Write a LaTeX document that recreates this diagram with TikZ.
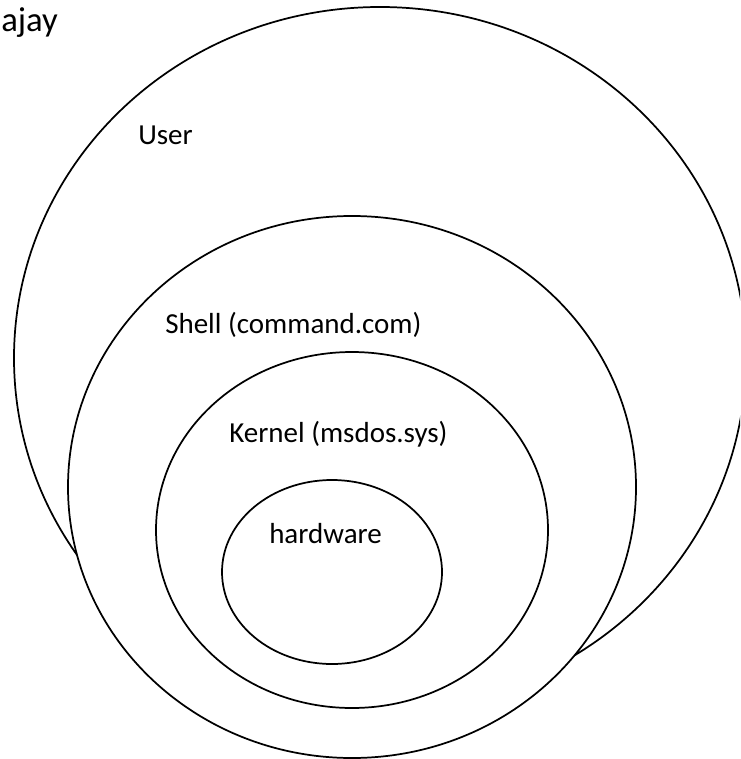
\documentclass[tikz,border=0pt]{standalone}
\usepackage{fontspec}
\setmainfont{Carlito}
\begin{document}
\begin{tikzpicture}[x=0.75pt,y=-0.75pt,
  ring/.style={draw=black,line width=1.3pt,fill=white},
  lbl/.style={inner sep=0pt,font=\fontsize{21.75}{26}\selectfont,anchor=base west},
  title/.style={inner sep=0pt,font=\fontsize{26}{31}\selectfont,anchor=base west}]
\useasboundingbox (0,0) rectangle (740,759);
\clip (0,0) rectangle (740,759);
\draw[ring] (380,358) ellipse [x radius=274.5pt, y radius=263.25pt];
\draw[ring] (352,487) ellipse [x radius=213pt, y radius=203.25pt];
\draw[ring] (352,530) ellipse [x radius=147pt, y radius=133.5pt];
\draw[ring] (332,572) ellipse [x radius=82.5pt, y radius=69pt];
\node[title] (ajay) at (1,32) {ajay};
\node[lbl] (user) at (138,145) {User};
\node[lbl] (shell) at (165,333) {Shell (command.com)};
\node[lbl] (kernel) at (229,442) {Kernel (msdos.sys)};
\node[lbl] (hw) at (269,543) {hardware};
\end{tikzpicture}
\end{document}
